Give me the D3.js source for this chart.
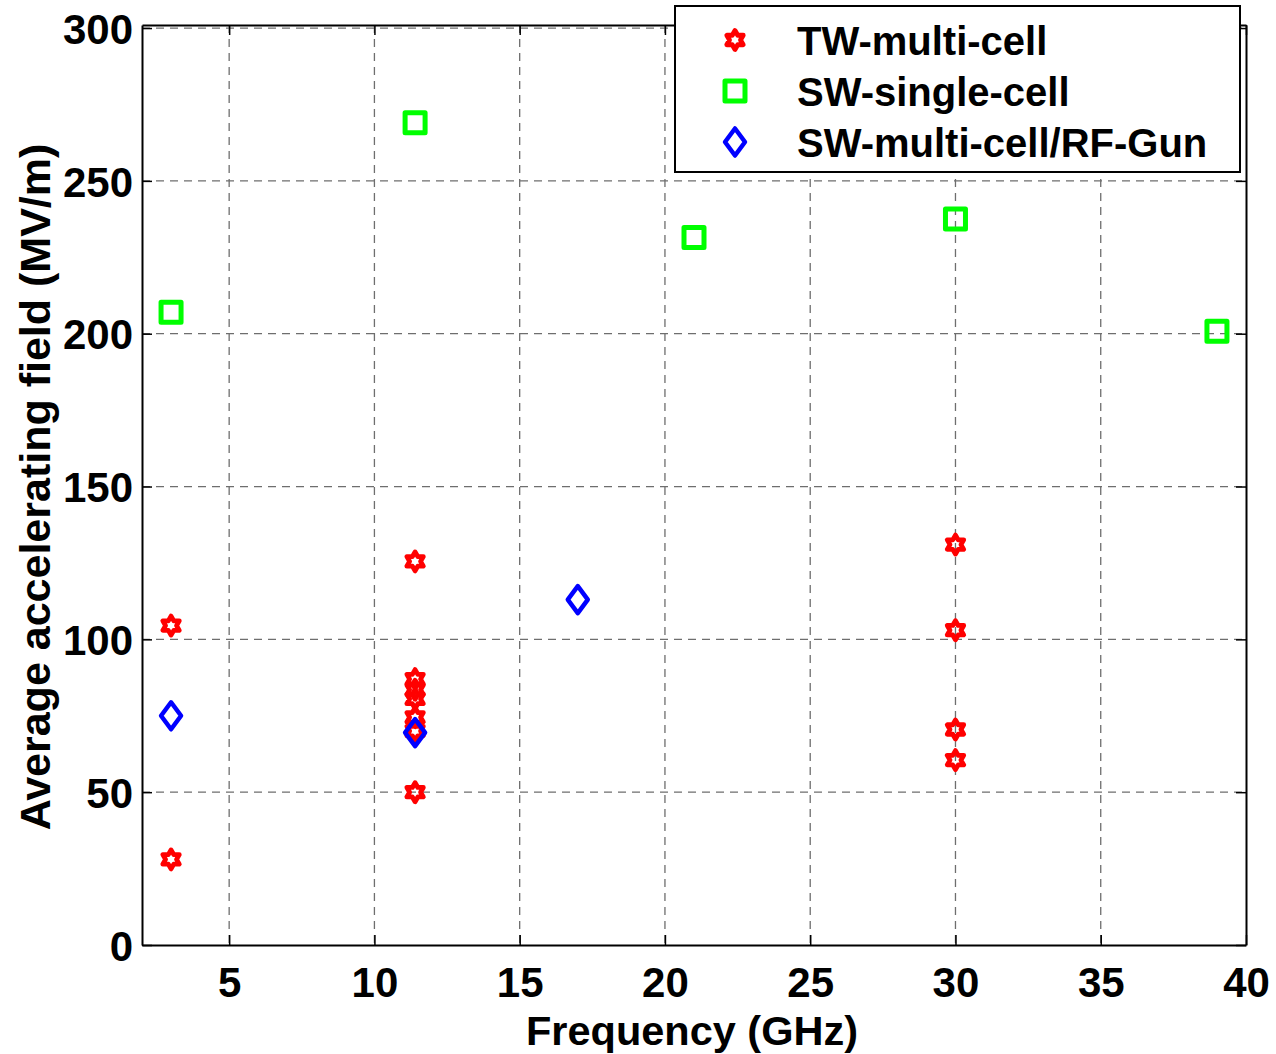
<!DOCTYPE html>
<html><head><meta charset="utf-8">
<script src="https://cdn.jsdelivr.net/npm/d3@7"></script>
<style>
body{margin:0;background:#fff;}
text{font-family:"Liberation Sans",Arial,Helvetica,sans-serif;font-weight:bold;}
</style></head>
<body><svg id="c" width="1276" height="1054"></svg>
<script>
// Data
const twFreq  = [3, 3, 11.4, 11.4, 11.4, 11.4, 11.4, 11.4, 11.4, 30, 30, 30, 30];
const twField = [104.5, 28, 125.5, 87, 83.5, 80.5, 74.5, 70, 50, 131, 103, 70.5, 60.5];
const swsFreq  = [3, 11.4, 21, 30, 39];
const swsField = [207, 269, 231.5, 237.5, 200.8];
const swmFreq  = [3, 11.4, 17];
const swmField = [75, 69.5, 113];
const xTicks = [5, 10, 15, 20, 25, 30, 35, 40];
const yTicks = [0, 50, 100, 150, 200, 250, 300];
const seriesNames = ["TW-multi-cell", "SW-single-cell", "SW-multi-cell/RF-Gun"];

const svg = d3.select("#c");
const L = 142, R = 1246, T = 25, B = 945;
const x = d3.scaleLinear().domain([2, 40]).range([L, R]);
const y = d3.scaleLinear().domain([0, 301]).range([B, T]);

// grid
const g = svg.append("g");
g.selectAll(".gx").data(xTicks.filter(d => d < 40)).join("line")
  .attr("x1", d => x(d)).attr("x2", d => x(d)).attr("y1", T).attr("y2", B)
  .attr("stroke", "#6e6e6e").attr("stroke-width", 1.3).attr("stroke-dasharray", "8,6");
g.selectAll(".gy").data(yTicks.filter(d => d > 0)).join("line")
  .attr("x1", L).attr("x2", R).attr("y1", d => y(d)).attr("y2", d => y(d))
  .attr("stroke", "#6e6e6e").attr("stroke-width", 1.3).attr("stroke-dasharray", "8,6");

// axes with inward ticks
const tl = 10;
const xb = svg.append("g").attr("transform", `translate(0,${B})`)
  .call(d3.axisBottom(x).tickValues(xTicks).tickSizeInner(-tl).tickSizeOuter(0).tickPadding(22));
const xt = svg.append("g").attr("transform", `translate(0,${T})`)
  .call(d3.axisTop(x).tickValues(xTicks).tickSizeInner(-tl).tickSizeOuter(0).tickFormat(""));
const yl = svg.append("g").attr("transform", `translate(${L},0)`)
  .call(d3.axisLeft(y).tickValues(yTicks).tickSizeInner(-tl).tickSizeOuter(0).tickPadding(9));
const yr = svg.append("g").attr("transform", `translate(${R},0)`)
  .call(d3.axisRight(y).tickValues(yTicks).tickSizeInner(-tl).tickSizeOuter(0).tickFormat(""));
[xb, xt, yl, yr].forEach(a => {
  a.select(".domain").attr("stroke", "#000").attr("stroke-width", 2);
  a.selectAll(".tick line").attr("stroke", "#000").attr("stroke-width", 1.5);
  a.selectAll("text").attr("font-size", 42).attr("fill", "#000")
   .attr("font-family", "'Liberation Sans',Arial,sans-serif").attr("font-weight", "bold");
});
xb.selectAll("text").attr("dy", "0.71em");
yl.selectAll("text").attr("dy", "0.36em");

// markers
function hexagram(R0) {
  const r0 = R0 / Math.sqrt(3);
  const pts = [];
  for (let i = 0; i < 12; i++) {
    const a = -Math.PI / 2 + i * Math.PI / 6;
    const rr = i % 2 === 0 ? R0 : r0;
    pts.push([rr * Math.cos(a), rr * Math.sin(a)]);
  }
  return "M" + pts.map(p => p.join(",")).join("L") + "Z";
}
const starPath = hexagram(9.5);
const squarePath = "M-10,-10L10,-10L10,10L-10,10Z";
const diamondPath = "M0,-13.5L10,0L0,13.5L-10,0Z";

const pg = svg.append("g");
pg.selectAll(".tw").data(twFreq.map((f, i) => [f, twField[i]])).join("path")
  .attr("d", starPath).attr("transform", d => `translate(${x(d[0])},${y(d[1])})`)
  .attr("fill", "none").attr("stroke", "#ff0000").attr("stroke-width", 4.8).attr("stroke-linejoin", "round");
pg.selectAll(".sws").data(swsFreq.map((f, i) => [f, swsField[i]])).join("path")
  .attr("d", squarePath).attr("transform", d => `translate(${x(d[0])},${y(d[1])})`)
  .attr("fill", "none").attr("stroke", "#00ff00").attr("stroke-width", 5).attr("stroke-linejoin", "round");
pg.selectAll(".swm").data(swmFreq.map((f, i) => [f, swmField[i]])).join("path")
  .attr("d", diamondPath).attr("transform", d => `translate(${x(d[0])},${y(d[1])})`)
  .attr("fill", "none").attr("stroke", "#0000ff").attr("stroke-width", 4.5).attr("stroke-linejoin", "round");

// axis labels
svg.append("text").attr("x", 692).attr("y", 1045).attr("text-anchor", "middle")
  .attr("font-size", 41.5).text("Frequency (GHz)");
svg.append("text").attr("transform", `translate(50,487) rotate(-90)`)
  .attr("text-anchor", "middle").attr("font-size", 43).text("Average accelerating field (MV/m)");

// legend
const lg = svg.append("g");
lg.append("rect").attr("x", 675).attr("y", 6).attr("width", 565).attr("height", 166)
  .attr("fill", "#fff").attr("stroke", "#000").attr("stroke-width", 2);
const legPaths = [starPath, squarePath, diamondPath];
const legCols = ["#ff0000", "#00ff00", "#0000ff"];
const legW = [4.8, 5, 4.5];
const rowsY = [40, 91, 142];
seriesNames.forEach((n, i) => {
  lg.append("path").attr("d", legPaths[i]).attr("transform", `translate(735,${rowsY[i]})`)
    .attr("fill", "none").attr("stroke", legCols[i]).attr("stroke-width", legW[i]).attr("stroke-linejoin", "round");
  lg.append("text").attr("x", 797).attr("y", rowsY[i] + 1).attr("dy", "0.36em")
    .attr("font-size", 40).text(n);
});
</script></body></html>
